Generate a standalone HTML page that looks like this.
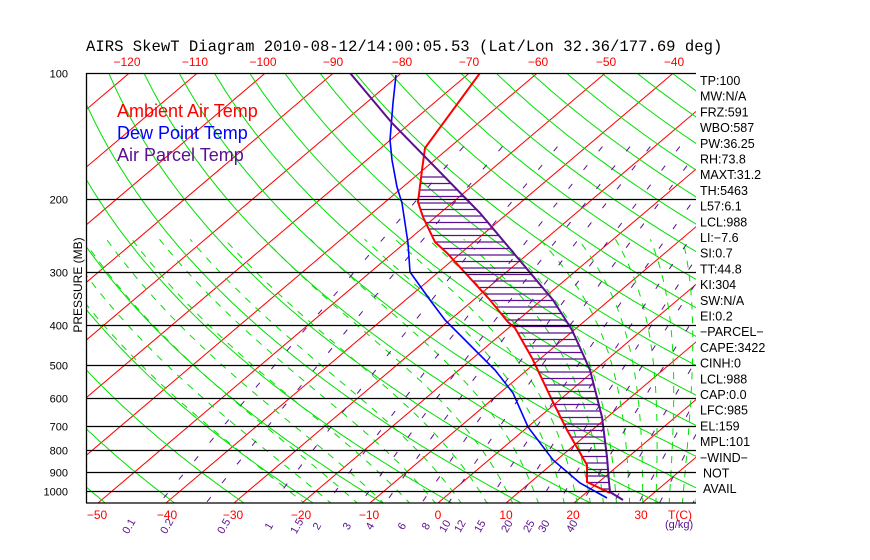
<!DOCTYPE html>
<html><head><meta charset="utf-8"><style>
html,body{margin:0;padding:0;background:#fff;}
svg{display:block;}
text{font-family:"Liberation Sans",sans-serif;}
</style></head><body>
<svg id="s" width="870" height="560" xmlns="http://www.w3.org/2000/svg">
<defs><clipPath id="c"><rect x="86" y="73" width="610" height="430"/></clipPath></defs>
<g id="grid" clip-path="url(#c)"></g>
<g id="prof" clip-path="url(#c)"></g>
<g id="lab"></g>
<text x="86" y="51" style="font-family:'Liberation Mono',monospace" font-size="15.6" fill="#000">AIRS SkewT Diagram 2010-08-12/14:00:05.53 (Lat/Lon 32.36/177.69 deg)</text>
<text x="117" y="117" font-size="18" fill="#ff0000">Ambient Air Temp</text>
<text x="117" y="139" font-size="18" fill="#0000ff">Dew Point Temp</text>
<text x="117" y="161" font-size="18" fill="#5a1090">Air Parcel Temp</text>
<text transform="translate(82,285) rotate(-90)" text-anchor="middle" font-size="12" fill="#000">PRESSURE (MB)</text>
</svg>
<script>
var NS="http://www.w3.org/2000/svg";
var G=document.getElementById('grid'),P=document.getElementById('prof'),L=document.getElementById('lab');
function el(par,tag,a,txt){var e=document.createElementNS(NS,tag);for(var k in a)e.setAttribute(k,a[k]);if(txt!==undefined)e.textContent=txt;par.appendChild(e);return e;}
var YB=503,K=181.5;
function yp(p){return 73+K*Math.log(p/100);}
function xt(T,y){return 438+6.8*T+1.18*(YB-y);}
function poly(par,pts,a){a.points=pts.map(function(q){return q[0].toFixed(1)+','+q[1].toFixed(1)}).join(' ');a.fill='none';return el(par,'polyline',a);}
for(var T=-170;T<=60;T+=10){poly(G,[[xt(T,503),503],[xt(T,73),73]],{stroke:'#ff0000','stroke-width':1});}
for(var th=190;th<=520;th+=10){var pts=[];for(var p=100;p<=1080;p+=10){var t=th*Math.pow(p/1000,0.286)-273.15;var y=yp(p);pts.push([xt(t,y),y]);}poly(G,pts,{stroke:'#00e000','stroke-width':1});}
function es(T){return 6.112*Math.exp(17.67*T/(T+243.5));}
function dTdp(T,p){var Tk=T+273.15,e=es(T),rs=0.622*e/(p-e),Lv=2.5e6,Rd=287,cp=1004;return (Rd*Tk+Lv*rs)/(p*(cp+Lv*Lv*rs*0.622/(Rd*Tk*Tk)));}
var tws=[];for(var tw=-24;tw<16;tw+=4)tws.push(tw);for(var tw=16;tw<=36;tw+=2)tws.push(tw);
tws.forEach(function(tw){var t=tw;var arr=[];for(var p=1000;p>=250;p-=5){var y=yp(p);arr.push([xt(t,y),y]);t-=dTdp(t,p)*5;}
 t=tw;var arr2=[];for(var p=1000;p<=1080;p+=5){var y=yp(p);arr2.unshift([xt(t,y),y]);t+=dTdp(t,p)*5;}
 poly(G,arr2.concat(arr),{stroke:'#00e000','stroke-width':1,'stroke-dasharray':'7 7'});});
var ws=[0.1,0.2,0.5,1,1.5,2,3,4,6,8,10,12,15,20,25,30,40];
function tdw(w,p){var e=w*p/(622+w);var l=Math.log(e/6.112);return 243.5*l/(17.67-l);}
for(var i=0;i<ws.length;i++){var pts=[];for(var p=150;p<=1080;p+=10){var y=yp(p);pts.push([xt(tdw(ws[i],p),y),y]);}poly(G,pts,{stroke:'#5a1090','stroke-width':1,'stroke-dasharray':'6 18'});}
[100,200,300,400,500,600,700,800,900,1000].forEach(function(p){var y=Math.round(yp(p))+0.5;el(L,'line',{x1:86,x2:696,y1:y,y2:y,stroke:'#000','stroke-width':1.3});el(L,'text',{x:68,y:y+4,'text-anchor':'end','font-size':11,fill:'#000'},String(p));});
el(L,'line',{x1:86.5,x2:86.5,y1:73,y2:503,stroke:'#000','stroke-width':1.3});
el(L,'line',{x1:86,x2:696,y1:503,y2:503,stroke:'#000','stroke-width':1.3});
var red=[[480,73],[425,148],[422,170],[418,202],[423,217],[435,242],[447,253],[490,300],[508,322],[515,328],[532,358],[552,400],[567,430],[587,465],[587,482],[610,493]];
var pur=[[350,73],[392,123],[480,213],[553,300],[572,330],[590,370],[602,417],[607,457],[609,482],[610,492],[623,500]];
var blu=[[396,75],[393,103],[390,140],[392,160],[397,187],[402,203],[408,243],[410,272],[430,300],[445,320],[475,350],[495,370],[513,393],[528,427],[553,460],[580,483],[607,498]];
function xat(pl,y){for(var i=0;i<pl.length-1;i++){var a=pl[i],b=pl[i+1];if(y>=a[1]&&y<=b[1]){var f=(b[1]==a[1])?0:(y-a[1])/(b[1]-a[1]);return a[0]+f*(b[0]-a[0]);}}return null;}
for(var y=177;y<=496;y+=6.5){var a=xat(red,y),b=xat(pur,y);if(a!=null&&b!=null&&b>a)el(P,'line',{x1:a,x2:b,y1:y,y2:y,stroke:'#5a1090','stroke-width':1.3});}
poly(P,red,{stroke:'#ff0000','stroke-width':2});
poly(P,blu,{stroke:'#0000ff','stroke-width':1.6});
poly(P,pur,{stroke:'#5a1090','stroke-width':2});
[[-120,127],[-110,195],[-100,263],[-90,333],[-80,402],[-70,469],[-60,538],[-50,606],[-40,674]].forEach(function(q){el(L,'text',{x:q[1],y:66,'text-anchor':'middle','font-size':12,fill:'#ff0000'},q[0]<0?'\u2212'+(-q[0]):q[0]);});
[[-50,97],[-40,167],[-30,233],[-20,301],[-10,369],[0,438],[10,506],[20,573],[30,641]].forEach(function(q){el(L,'text',{x:q[1],y:519,'text-anchor':'middle','font-size':12,fill:'#ff0000'},q[0]<0?'\u2212'+(-q[0]):q[0]);});
el(L,'text',{x:668,y:519,'font-size':12,fill:'#ff0000'},'T(C)');
var wx=[132,170,227,272,300,320,350,373,405,429,448,463,483,510,532,547,575];
for(var i=0;i<ws.length;i++){el(L,'text',{transform:'translate('+wx[i]+',528) rotate(-60)','text-anchor':'middle','font-size':11,fill:'#5a1090'},String(ws[i]));}
el(L,'text',{x:665,y:528,'font-size':11,fill:'#5a1090'},'(g/kg)');
var rl=['TP:100','MW:N/A','FRZ:591','WBO:587','PW:36.25','RH:73.8','MAXT:31.2','TH:5463','L57:6.1','LCL:988','LI:\u22127.6','SI:0.7','TT:44.8','KI:304','SW:N/A','EI:0.2','\u2212PARCEL\u2212','CAPE:3422','CINH:0','LCL:988','CAP:0.0','LFC:985','EL:159','MPL:101','\u2212WIND\u2212','NOT','AVAIL'];
for(var i=0;i<rl.length;i++){el(L,'text',{x:i>=25?703:700,y:85+i*15.7,'font-size':12.5,fill:'#000'},rl[i]);}
</script>
</body></html>
